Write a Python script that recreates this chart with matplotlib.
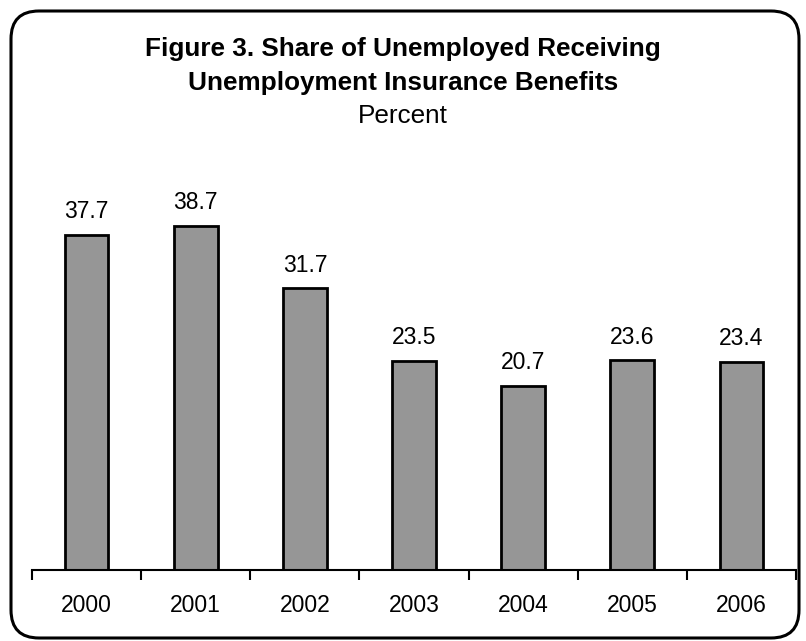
import matplotlib
matplotlib.use("Agg")
import matplotlib.pyplot as plt
from matplotlib.patches import FancyBboxPatch
from matplotlib.transforms import IdentityTransform

plt.rcParams['font.family'] = ['Liberation Sans', 'DejaVu Sans']

years = ['2000', '2001', '2002', '2003', '2004', '2005', '2006']
share = [37.7, 38.7, 31.7, 23.5, 20.7, 23.6, 23.4]

W, H = 806, 641
fig = plt.figure(figsize=(W / 100, H / 100), dpi=100, facecolor='white')

# rounded frame around the whole chart (pixel coordinates, origin bottom-left)
frame = FancyBboxPatch((11, 3), 788, 627,
                       boxstyle="round,pad=0,rounding_size=28",
                       transform=IdentityTransform(), facecolor='none',
                       edgecolor='black', linewidth=2.2, zorder=5)
fig.patches.append(frame)

fig.text(0.5, 1 - 56 / H, 'Figure 3. Share of Unemployed Receiving',
         ha='center', va='baseline', fontsize=18.8, fontweight='bold')
fig.text(0.5, 1 - 90 / H, 'Unemployment Insurance Benefits',
         ha='center', va='baseline', fontsize=18.8, fontweight='bold')
fig.text(0.5, 1 - 123 / H, 'Percent', ha='center', va='baseline', fontsize=18.8)

# axes: x axis line at y=570px, 8.89 px per percentage point
ax_bottom = 570
ax_top = 150
ax = fig.add_axes([32 / W, 1 - ax_bottom / H, 764 / W, (ax_bottom - ax_top) / H])
ax.patch.set_alpha(0)

x = range(len(years))
ax.bar(x, share, width=0.4, color='#969696', edgecolor='black', linewidth=2)
for xi, v in zip(x, share):
    ax.annotate(f'{v:.1f}', (xi, v), xytext=(0, 12), textcoords='offset points',
                ha='center', va='baseline', fontsize=16.5)

ax.set_xlim(-0.5, len(years) - 0.5)
ax.set_ylim(0, (ax_bottom - ax_top) / 8.89)

for s in ['top', 'right', 'left']:
    ax.spines[s].set_visible(False)
ax.spines['bottom'].set_linewidth(1.5)
ax.set_yticks([])

# ticks sit between categories, labels centred under bars
ax.set_xticks([i - 0.5 for i in range(len(years) + 1)])
ax.set_xticklabels([])
ax.set_xticks(list(x), minor=True)
ax.set_xticklabels(years, minor=True, fontsize=16.5)
ax.tick_params(axis='x', which='major', length=7, width=1.5, direction='out')
ax.tick_params(axis='x', which='minor', length=0, pad=17)

fig.savefig('out.png', dpi=100)
